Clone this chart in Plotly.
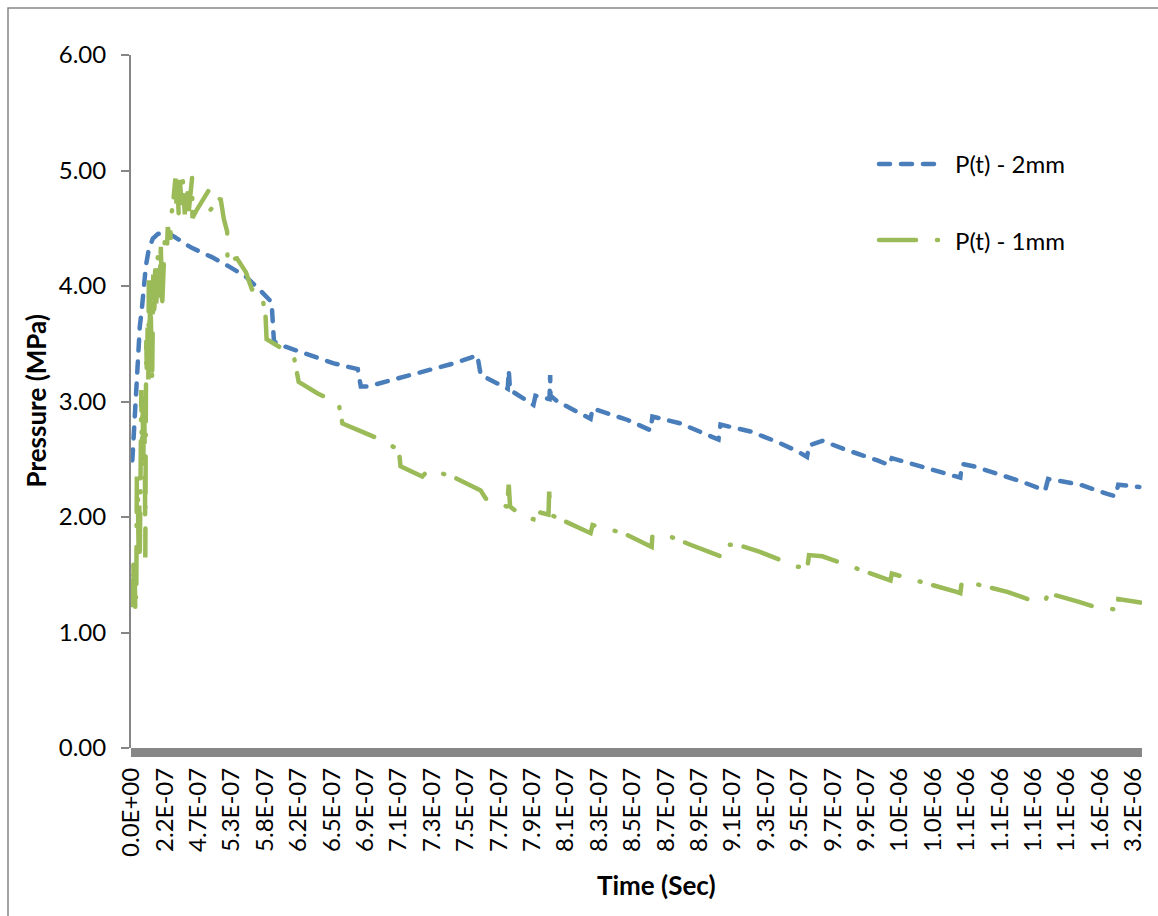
import plotly.graph_objects as go

# ---- data -------------------------------------------------------------
# x positions are category indices of the time samples (10 samples per tick label)
tick_labels = [
    "0.0E+00", "2.2E-07", "4.7E-07", "5.3E-07", "5.8E-07", "6.2E-07", "6.5E-07",
    "6.9E-07", "7.1E-07", "7.3E-07", "7.5E-07", "7.7E-07", "7.9E-07", "8.1E-07",
    "8.3E-07", "8.5E-07", "8.7E-07", "8.9E-07", "9.1E-07", "9.3E-07", "9.5E-07",
    "9.7E-07", "9.9E-07", "1.0E-06", "1.0E-06", "1.1E-06", "1.1E-06", "1.1E-06",
    "1.1E-06", "1.6E-06", "3.2E-06",
]
tick_positions = [10 * i for i in range(len(tick_labels))]

p2_idx = [
    0.30, 0.75, 1.35, 1.94, 2.54, 3.14, 3.74, 4.34, 5.24, 6.43, 7.93, 9.13, 10.6, 12.1,
    18.1, 24.1, 29.2, 34.3, 39.0, 40.8, 42.0, 42.3, 42.7, 45.6, 52.8, 60.6, 67.8, 68.2,
    68.7, 70.8, 78.5, 88.7, 96.5, 103.6, 104.0, 104.6, 112.7, 113.0, 113.4, 117.4, 120.4,
    121.0, 125.2, 125.4, 125.5, 127.6, 133.6, 137.5, 138.1, 148.6, 155.5, 156.0, 164.4,
    172.5, 175.8, 176.4, 185.4, 193.4, 199.4, 202.3, 202.9, 206.9, 213.2, 223.4, 226.8,
    227.7, 236.2, 245.7, 248.2, 248.7, 252.1, 266.2, 273.6, 274.5, 284.1, 292.2, 294.6,
    295.5, 301.8,
]
p2_mpa = [
    2.49, 2.75, 3.10, 3.45, 3.65, 3.80, 3.99, 4.17, 4.32, 4.41, 4.45, 4.46, 4.46, 4.44,
    4.33, 4.25, 4.17, 4.08, 3.95, 3.90, 3.86, 3.71, 3.52, 3.48, 3.41, 3.33, 3.28, 3.22,
    3.13, 3.13, 3.19, 3.26, 3.33, 3.40, 3.30, 3.23, 3.11, 3.27, 3.10, 3.03, 2.97,
    3.05, 3.02, 3.23, 3.05, 3.00, 2.91, 2.85, 2.94, 2.84, 2.75, 2.87, 2.81,
    2.71, 2.67, 2.80, 2.74, 2.65, 2.57, 2.52, 2.62, 2.66, 2.59, 2.49, 2.45,
    2.51, 2.44, 2.36, 2.34, 2.46, 2.44, 2.31, 2.23, 2.33, 2.28, 2.20, 2.18,
    2.28, 2.26,
]

p1_idx = [
    0.30, 0.45, 0.60, 0.81, 0.99, 1.20, 1.50, 1.65, 1.80, 1.94, 2.18, 2.39, 2.54, 2.84,
    2.99, 3.14, 3.38, 3.59, 3.80, 4.04, 4.19, 4.34, 4.49, 4.64, 4.88, 5.09, 5.24, 5.48,
    5.69, 5.89, 6.07, 6.22, 6.43, 6.58, 6.88, 7.18, 7.48, 7.93, 8.38, 8.83, 9.22, 9.58,
    10.0, 10.7, 10.9, 11.7, 11.8, 12.6, 13.2, 13.3, 13.8, 14.2, 14.5, 15.1, 15.4, 16.0,
    16.6, 17.2, 18.2, 18.3, 19.6, 23.2, 23.7, 26.7, 27.7, 28.7, 28.8, 31.6, 34.3, 36.1,
    39.0, 40.2, 40.5, 45.6, 48.6, 50.1, 55.8, 62.1, 63.2, 68.1, 74.7, 80.1, 80.6, 87.1,
    89.0, 96.2, 104.6, 106.1, 112.5, 113.0, 113.4, 117.4, 120.4, 121.0, 124.9, 125.1,
    125.5, 137.5, 138.1, 147.4, 155.8, 156.0, 161.4, 167.4, 176.4, 176.7, 181.5, 188.0,
    199.4, 202.4, 202.9, 206.9, 218.9, 224.9, 227.3, 227.7, 240.7, 247.3, 248.2, 248.7,
    262.5, 268.3, 273.6, 274.5, 283.2, 289.8, 294.9, 295.5, 302.1,
]
p1_mpa = [
    1.45, 1.22, 1.60, 1.26, 1.55, 1.17, 1.40, 2.35, 1.80, 2.20, 1.70, 2.10, 1.65, 2.28,
    3.10, 2.49, 3.00, 2.45, 3.05, 2.55, 1.65, 2.95, 3.53, 3.21, 3.64, 3.19, 4.05, 3.62,
    3.95, 3.40, 3.82, 3.19, 3.70, 4.10, 3.75, 4.20, 3.85, 4.25, 3.90, 4.34, 3.82, 4.20,
    4.40, 4.34, 4.51, 4.40, 4.57, 4.75, 4.93, 4.66, 4.90, 4.60, 4.92, 4.70, 4.92, 4.62,
    4.88, 4.65, 4.94, 4.59, 4.66, 4.83, 4.66, 4.76, 4.58, 4.47, 4.22, 4.24, 4.12, 3.97,
    3.95, 3.73, 3.54, 3.45, 3.40, 3.17, 3.07, 2.98, 2.81, 2.75, 2.67, 2.58, 2.44, 2.35,
    2.41, 2.35, 2.23, 2.16, 2.09, 2.28, 2.09, 2.00, 1.98, 2.05, 2.02, 2.22,
    2.02, 1.86, 1.93, 1.86, 1.74, 1.84, 1.83, 1.76, 1.66, 1.76, 1.76, 1.70,
    1.57, 1.56, 1.67, 1.66, 1.54, 1.47, 1.45, 1.51, 1.41, 1.35, 1.34, 1.45,
    1.35, 1.29, 1.27, 1.34, 1.27, 1.21, 1.20, 1.29, 1.26,
]

series_names = ["P(t) - 2mm", "P(t) - 1mm"]

# ---- styling ------------------------------------------------------------
BLUE = "#4A7EBB"
GREEN = "#9BBB59"
GREY = "#868686"
FONT = "Lato, 'Open Sans', sans-serif"
BLUE_DASH = "11px,11px"
GREEN_DASH = "37px,21px,1px,13px"
LW = 4.5

fig = go.Figure()
fig.add_trace(go.Scatter(x=p2_idx, y=p2_mpa, mode="lines", name=series_names[0],
                         line=dict(color=BLUE, width=LW, dash=BLUE_DASH),
                         showlegend=False))
fig.add_trace(go.Scatter(x=p1_idx, y=p1_mpa, mode="lines", name=series_names[1],
                         line=dict(color=GREEN, width=LW, dash=GREEN_DASH),
                         showlegend=False))

W, H = 1158, 916
L, R, T, B = 131, 16, 55, 168
pw, ph = W - L - R, H - T - B


def px_x(px):
    return (px - L) / pw


def px_y(py):
    return (H - B - py) / ph


shapes = [
    # outer chart frame
    dict(type="rect", xref="paper", yref="paper", x0=px_x(8), x1=px_x(W + 20),
         y0=px_y(H + 20), y1=px_y(8), line=dict(color=GREY, width=1.5),
         fillcolor="rgba(0,0,0,0)", layer="below"),
    # heavy category axis bar
    dict(type="rect", xref="paper", yref="paper", x0=0, x1=1, y0=px_y(757), y1=0,
         line=dict(width=0), fillcolor="#878787", layer="above"),
    # legend keys
    dict(type="line", xref="paper", yref="paper", x0=px_x(879), x1=px_x(934.5),
         y0=px_y(164), y1=px_y(164), line=dict(color=BLUE, width=LW, dash=BLUE_DASH)),
    dict(type="line", xref="paper", yref="paper", x0=px_x(879), x1=px_x(938),
         y0=px_y(240), y1=px_y(240), line=dict(color=GREEN, width=LW, dash=GREEN_DASH)),
]

annotations = [
    dict(text=series_names[0], xref="paper", yref="paper", x=px_x(953), y=px_y(164),
         xanchor="left", yanchor="middle", showarrow=False,
         font=dict(family=FONT, size=24, color="black")),
    dict(text=series_names[1], xref="paper", yref="paper", x=px_x(953), y=px_y(240),
         xanchor="left", yanchor="middle", showarrow=False,
         font=dict(family=FONT, size=24, color="black")),
    dict(text="<b>Pressure (MPa)</b>", xref="paper", yref="paper", x=px_x(35), y=0.5,
         xanchor="center", yanchor="middle", textangle=-90, showarrow=False,
         font=dict(family=FONT, size=26, color="black")),
    dict(text="<b>Time (Sec)</b>", xref="paper", yref="paper", x=px_x(656), y=px_y(885),
         xanchor="center", yanchor="middle", showarrow=False,
         font=dict(family=FONT, size=26, color="black")),
]

fig.update_layout(
    width=W, height=H,
    margin=dict(l=L, r=R, t=T, b=B, pad=0),
    paper_bgcolor="white", plot_bgcolor="white",
    shapes=shapes, annotations=annotations,
    showlegend=False,
    xaxis=dict(range=[-0.1, 302.6], tickmode="array", tickvals=tick_positions,
               ticktext=tick_labels, tickangle=-90, ticks="", showgrid=False,
               zeroline=False, showline=False, ticklabelstandoff=14,
               tickfont=dict(family=FONT, size=24, color="black")),
    yaxis=dict(range=[0, 6], dtick=1, tickformat=".2f", ticks="outside", ticklen=8,
               tickwidth=1.5, tickcolor=GREY, showline=True, linecolor=GREY,
               linewidth=2, showgrid=False, zeroline=False, ticklabelstandoff=10,
               tickfont=dict(family=FONT, size=24, color="black")),
)

round_caps = """
var gd = document.getElementById('{plot_id}');
gd.querySelectorAll('path.js-line, .shapelayer path').forEach(function (p) {
  p.style.strokeLinecap = 'round';
});
"""

fig.write_html("out.html", post_script=round_caps)
